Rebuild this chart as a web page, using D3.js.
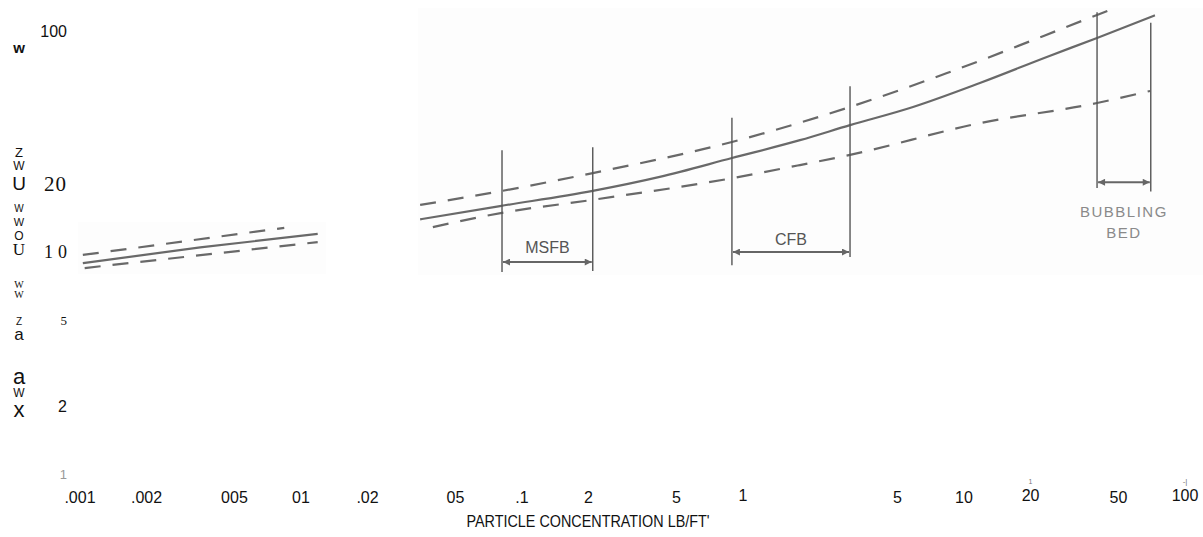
<!DOCTYPE html>
<html>
<head>
<meta charset="utf-8">
<script src="https://cdn.jsdelivr.net/npm/d3@7"></script>
<style>
  body { margin: 0; background: #fff; }
  svg { display: block; }
  .tick-label { font-family: "Liberation Sans Narrow", "Arial Narrow", "Liberation Sans", sans-serif; font-size: 16px; fill: #111; }
  .regime { font-family: "Liberation Sans", Arial, sans-serif; fill: #555; }
</style>
</head>
<body>
<svg id="chart"></svg>
<script>
// tick values and the (scanned) labels printed under them
var xTickValues = [0.001, 0.002, 0.005, 0.01, 0.02, 0.05, 0.1, 0.2, 0.5, 1, 5, 10, 20, 50, 100];
var xTickLabels = [".001", ".002", "005", "01", ".02", "05", ".1", "2", "5", "1", "5", "10", "20", "50", "100"];
var yTickValues = [100, 20, 10, 5, 2, 1];
var yTickLabels = ["100", "20", "10", "5", "2", "1"];

// curves: [particle concentration, value]
var solidLeft = [[0.00103, 9.0], [0.0035, 10.6], [0.0119, 12.2]];
var upperLeft = [[0.00103, 9.8], [0.0084, 13.0]];
var lowerLeft = [[0.00105, 8.55], [0.0119, 11.2]];

var solidRight = [[0.0346, 14.2], [0.0795, 16.3], [0.209, 19.1], [0.42, 22.1], [0.891, 26.9], [1.81, 32.4],
                  [3.05, 37.9], [5.88, 45.8], [11.8, 58.8], [23.7, 77.1], [40.0, 94.0], [73.1, 119]];
var upperRight = [[0.0346, 16.5], [0.0812, 19.1], [0.209, 23.0], [0.891, 31.8], [3.05, 45.8], [8.38, 65.2],
                  [40.0, 119.4], [45.8, 125.8]];
var lowerRight = [[0.0395, 13.1], [0.0812, 15.2], [0.209, 17.4], [0.891, 21.8], [1.81, 25.0], [3.05, 27.8],
                  [11.8, 38.7], [40.0, 47.7], [69.5, 54.1]];

// regime ranges
var regimeNames = [["MSFB"], ["CFB"], ["BUBBLING", "BED"]];
var regimeStart = [0.0812, 0.891, 40];
var regimeEnd = [0.209, 3.05, 70];
var regimeArrowY = [9.1, 10.1, 20.9];
var startTop = [29.2, 40.9, 123];
var startBottom = [8.2, 8.8, 19.7];
var endTop = [30.1, 56.8, 110];
var endBottom = [8.3, 9.6, 19.0];

// y-axis title as it came out of the scan
var yTitleLetters = ["w", "Z", "W", "U", "W", "W", "O", "U", "W", "W", "Z", "a", "a", "W", "x"];
var xTitle = "PARTICLE CONCENTRATION LB/FT'";

var W = 1203, H = 537;
var svg = d3.select("#chart").attr("width", W).attr("height", H);

var x = d3.scaleLog().domain([0.001, 100]).range([80, 1185]);
var y = d3.scaleLog().domain([1, 100]).range([474, 32]);

// faint scanned paper
svg.append("rect").attr("x", 418).attr("y", 8).attr("width", W - 418).attr("height", 267).attr("fill", "#fdfdfd");
svg.append("rect").attr("x", 78).attr("y", 222).attr("width", 248).attr("height", 52).attr("fill", "#fdfdfd");

var lineColor = "#696969";
var line = d3.line()
    .x(function (d) { return x(d[0]); })
    .y(function (d) { return y(d[1]); })
    .curve(d3.curveMonotoneX);

function drawCurve(data, dashed) {
    svg.append("path")
        .datum(data)
        .attr("d", line)
        .attr("fill", "none")
        .attr("stroke", lineColor)
        .attr("stroke-width", 2.2)
        .attr("stroke-dasharray", dashed ? "16,12" : null);
}
drawCurve(solidLeft, false);
drawCurve(upperLeft, true);
drawCurve(lowerLeft, true);
drawCurve(solidRight, false);
drawCurve(upperRight, true);
drawCurve(lowerRight, true);

// arrow heads
var defs = svg.append("defs");
defs.append("marker").attr("id", "head")
    .attr("viewBox", "0 0 10 10").attr("refX", 10).attr("refY", 5)
    .attr("markerWidth", 14).attr("markerHeight", 7).attr("markerUnits", "userSpaceOnUse")
    .attr("orient", "auto-start-reverse")
    .append("path").attr("d", "M0,0L10,5L0,10Z").attr("fill", "#666");

regimeNames.forEach(function (name, i) {
    var x0 = x(regimeStart[i]), x1 = x(regimeEnd[i]);
    svg.append("line").attr("x1", x0).attr("x2", x0).attr("y1", y(startTop[i])).attr("y2", y(startBottom[i]))
        .attr("stroke", "#555").attr("stroke-width", 1.4);
    svg.append("line").attr("x1", x1).attr("x2", x1).attr("y1", y(endTop[i])).attr("y2", y(endBottom[i]))
        .attr("stroke", "#555").attr("stroke-width", 1.4);
    svg.append("line").attr("x1", x0 + 1).attr("x2", x1 - 1)
        .attr("y1", y(regimeArrowY[i])).attr("y2", y(regimeArrowY[i]))
        .attr("stroke", "#666").attr("stroke-width", 2)
        .attr("marker-start", "url(#head)").attr("marker-end", "url(#head)");
    var cx = (x0 + x1) / 2;
    if (name.length === 1) {
        svg.append("text").attr("class", "regime")
            .attr("x", cx).attr("y", y(regimeArrowY[i]) - (i === 0 ? 9 : 7))
            .attr("text-anchor", "middle").attr("font-size", 16)
            .text(name[0]);
    } else {
        name.forEach(function (t, j) {
            svg.append("text").attr("class", "regime")
                .attr("x", cx).attr("y", y(regimeArrowY[i]) + 35 + j * 21)
                .attr("text-anchor", "middle").attr("font-size", 15)
                .style("fill", "#8a8a8a")
                .attr("letter-spacing", 1.5)
                .text(t);
        });
    }
});

// x tick labels
var raised = [1, 20, 100];
svg.append("g").selectAll("text")
    .data(xTickValues)
    .enter().append("text")
    .attr("class", "tick-label")
    .attr("x", function (d) { return x(d); })
    .attr("y", function (d) { return raised.indexOf(d) >= 0 ? 501 : 503; })
    .attr("text-anchor", "middle")
    .text(function (d, i) { return xTickLabels[i]; });

// stray scan marks above a few ticks
svg.append("text").attr("x", x(20)).attr("y", 484).attr("text-anchor", "middle")
    .attr("font-size", 7).attr("fill", "#777").attr("font-family", "Liberation Sans").text("1");
svg.append("text").attr("x", x(100)).attr("y", 484).attr("text-anchor", "middle")
    .attr("font-size", 8).attr("fill", "#777").attr("font-family", "Liberation Sans").text("-|");

// y tick labels (mixed fonts from the scan)
var yFonts = [
    {f: "Liberation Sans Narrow, Liberation Sans", s: 16, c: "#111"},
    {f: "Liberation Serif", s: 21, c: "#111", sp: 1},
    {f: "Liberation Serif", s: 18, c: "#111", sp: 5},
    {f: "Liberation Serif", s: 13, c: "#111"},
    {f: "Liberation Sans Narrow, Liberation Sans", s: 16, c: "#111"},
    {f: "Liberation Sans", s: 13, c: "#999"}
];
svg.append("g").selectAll("text")
    .data(yTickValues)
    .enter().append("text")
    .attr("x", function (d, i) { return i === 2 ? 72 : 67; })
    .attr("y", function (d) { return y(d) + 5; })
    .attr("text-anchor", "end")
    .attr("font-family", function (d, i) { return yFonts[i].f; })
    .attr("font-size", function (d, i) { return yFonts[i].s; })
    .attr("letter-spacing", function (d, i) { return yFonts[i].sp || 0; })
    .attr("fill", function (d, i) { return yFonts[i].c; })
    .text(function (d, i) { return yTickLabels[i]; });

// y title letters, stacked down the left edge
var letterY = [53, 157, 170, 190, 212, 226, 240, 255, 288, 298, 325, 340, 384, 397, 417];
var letterSize = [15, 13, 12, 19, 10, 11, 12, 17, 10, 10, 10, 17, 22, 12, 22];
var letterFont = ["Liberation Sans", "Liberation Sans", "Liberation Sans", "Liberation Sans",
    "Liberation Sans", "Liberation Sans", "Liberation Sans", "Liberation Serif",
    "Liberation Serif", "Liberation Serif", "Liberation Sans", "Liberation Sans",
    "Liberation Sans Narrow, Liberation Sans", "Liberation Sans", "Liberation Sans"];
svg.append("g").selectAll("text")
    .data(yTitleLetters)
    .enter().append("text")
    .attr("x", 19)
    .attr("y", function (d, i) { return letterY[i]; })
    .attr("text-anchor", "middle")
    .attr("font-family", function (d, i) { return letterFont[i]; })
    .attr("font-size", function (d, i) { return letterSize[i]; })
    .attr("font-weight", function (d, i) { return i === 0 ? "bold" : "normal"; })
    .attr("fill", "#111")
    .text(function (d) { return d; });

// x axis title
svg.append("text")
    .attr("x", 588).attr("y", 527)
    .attr("text-anchor", "middle")
    .attr("font-family", "Liberation Sans Narrow, Liberation Sans")
    .attr("font-size", 16)
    .attr("fill", "#111")
    .attr("textLength", 243)
    .attr("lengthAdjust", "spacingAndGlyphs")
    .text(xTitle);
</script>
</body>
</html>
